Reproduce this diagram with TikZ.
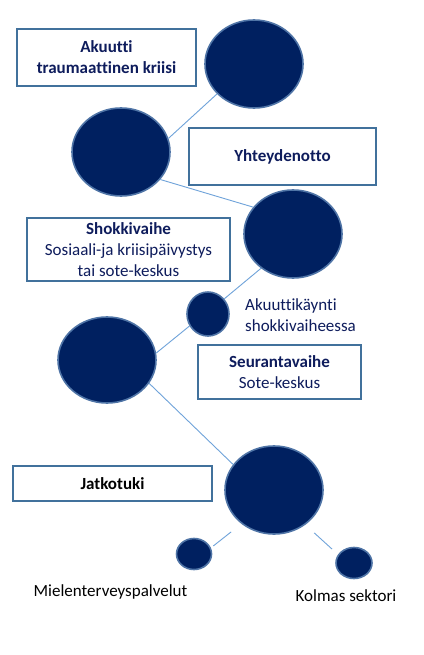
\documentclass[tikz,border=0pt]{standalone}
\usepackage{fontspec}
\setmainfont[Ligatures=NoCommon]{Carlito}
\usetikzlibrary{shapes.geometric}
\definecolor{navy}{HTML}{002060}
\definecolor{ring}{HTML}{4F74A6}
\definecolor{boxline}{HTML}{41719C}
\definecolor{conn}{HTML}{6FA3DA}
\definecolor{txtnavy}{HTML}{0E1C5C}
\tikzset{
  blob/.style={ellipse, fill=navy, draw=ring, line width=1.6pt, inner sep=0pt},
  infobox/.style={rectangle, draw=boxline, line width=2pt, fill=white, inner sep=0pt, align=center, text=txtnavy,
     font=\fontsize{17}{20.9}\selectfont},
  plain/.style={inner sep=0pt, font=\fontsize{17}{20.9}\selectfont},
  link/.style={draw=conn, line width=0.9pt},
}
\begin{document}
\begin{tikzpicture}[x=1pt,y=-1pt]
\useasboundingbox (0,0) rectangle (423,655);
\fill[white] (0,0) rectangle (423,655);
% circles
\node[blob, minimum width=98, minimum height=88] (c1) at (254,64) {};
\node[blob, minimum width=98, minimum height=88] (c2) at (121,152) {};
\node[blob, minimum width=98, minimum height=88] (c3) at (293,234) {};
\node[blob, minimum width=42, minimum height=44] (c4) at (208,314) {};
\node[blob, minimum width=98, minimum height=86] (c5) at (107,360) {};
\node[blob, minimum width=98, minimum height=88] (c6) at (274,490) {};
\node[blob, minimum width=35, minimum height=31] (c7) at (194,554) {};
\node[blob, minimum width=36, minimum height=31] (c8) at (354,563) {};
% connectors
\draw[link] (c1.219) -- (c2.16);
\draw[link] (c2.325) -- (c3.146);
\draw[link] (c3.227) -- (c4.43);
\draw[link] (c4.213) -- (c5.8);
\draw[link] (c5.331) -- (c6.148);
\draw[link, shorten <=13pt, shorten >=3pt] (c6.226) -- (c7.20);
\draw[link, shorten <=12pt, shorten >=8pt] (c6.312) -- (c8.152);
% boxes
\node[infobox, minimum width=179, minimum height=57] (b1) at (106.5,57.5)
  {\textbf{Akuutti}\\\textbf{traumaattinen kriisi}};
\node[infobox, minimum width=187, minimum height=57] (b2) at (282.5,156.5)
  {\textbf{Yhteydenotto}};
\node[infobox, minimum width=203, minimum height=63] (b3) at (128.5,249.5)
  {\textbf{Shokkivaihe}\\Sosiaali-ja kriisipäivystys\\tai sote-keskus};
\node[infobox, minimum width=163, minimum height=54] (b4) at (279.5,372)
  {\textbf{Seurantavaihe}\\Sote-keskus};
\node[infobox, minimum width=199, minimum height=35, text=black] (b5) at (112.5,483.5)
  {\textbf{Jatkotuki}};
% free labels
\node[plain, anchor=west, align=left, text=txtnavy] (t1) at (245,315.5)
  {Akuuttikäynti\\shokkivaiheessa};
\node[plain, text=black] (t2) at (110.5,592) {Mielenterveyspalvelut};
\node[plain, text=black] (t3) at (346,596) {Kolmas sektori};
\end{tikzpicture}
\end{document}
